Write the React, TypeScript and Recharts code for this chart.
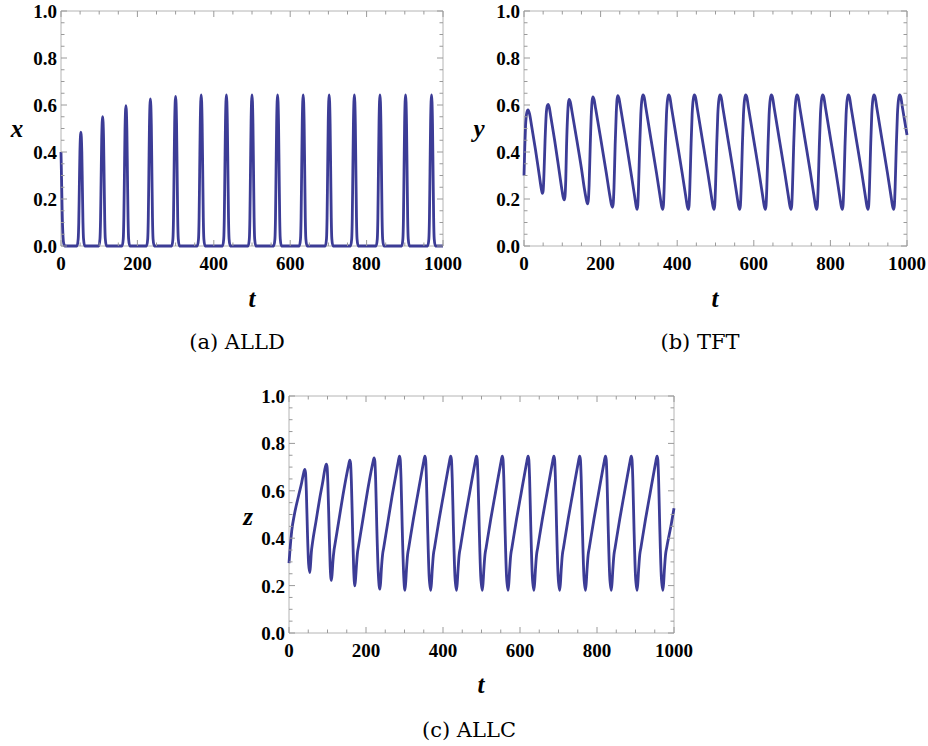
import { LineChart, Line, XAxis, YAxis, ReferenceArea } from 'recharts';

type Pt = [number, number];

// tick values (minor every 50 / 0.05, labels on the majors)
const tTicks = [0, 50, 100, 150, 200, 250, 300, 350, 400, 450, 500, 550, 600, 650, 700, 750, 800, 850, 900, 950, 1000];
const tMajor = [0, 200, 400, 600, 800, 1000];
const yTicks = [0, 0.05, 0.1, 0.15, 0.2, 0.25, 0.3, 0.35, 0.4, 0.45, 0.5, 0.55, 0.6, 0.65, 0.7, 0.75, 0.8, 0.85, 0.9, 0.95, 1];
const yMajor = [0, 0.2, 0.4, 0.6, 0.8, 1];

// (a) ALLD, x(t)
const alldPts: Pt[] = [
  [0, 0.4], [1.5, 0.28], [3, 0.15], [5, 0.05], [7, 0.012], [10, 0],
  [42, 0], [45, 0.03], [46.5, 0.1], [48, 0.25], [49.5, 0.4], [52, 0.484], [54.5, 0.4], [56, 0.25], [57.5, 0.1], [59, 0.03], [62, 0],
  [99, 0], [102, 0.03], [103.5, 0.11], [105, 0.28], [106.5, 0.45], [109, 0.55], [111.5, 0.45], [113, 0.28], [114.5, 0.11], [116, 0.03], [119, 0],
  [160, 0], [163, 0.03], [164.5, 0.12], [166, 0.3], [167.5, 0.49], [170, 0.597], [172.5, 0.49], [174, 0.3], [175.5, 0.12], [177, 0.03], [180, 0],
  [224, 0], [227, 0.03], [228.5, 0.12], [230, 0.31], [231.5, 0.51], [234, 0.626], [236.5, 0.51], [238, 0.31], [239.5, 0.12], [241, 0.03], [244, 0],
  [290, 0], [293, 0.03], [294.5, 0.12], [296, 0.32], [297.5, 0.52], [300, 0.637], [302.5, 0.52], [304, 0.32], [305.5, 0.12], [307, 0.03], [310, 0],
  [357, 0], [360, 0.03], [361.5, 0.12], [363, 0.32], [364.5, 0.52], [367, 0.643], [369.5, 0.52], [371, 0.32], [372.5, 0.12], [374, 0.03], [377, 0],
  [423, 0], [426, 0.03], [427.5, 0.12], [429, 0.32], [430.5, 0.52], [433, 0.643], [435.5, 0.52], [437, 0.32], [438.5, 0.12], [440, 0.03], [443, 0],
  [490, 0], [493, 0.03], [494.5, 0.12], [496, 0.32], [497.5, 0.52], [500, 0.643], [502.5, 0.52], [504, 0.32], [505.5, 0.12], [507, 0.03], [510, 0],
  [557, 0], [560, 0.03], [561.5, 0.12], [563, 0.32], [564.5, 0.52], [567, 0.643], [569.5, 0.52], [571, 0.32], [572.5, 0.12], [574, 0.03], [577, 0],
  [624, 0], [627, 0.03], [628.5, 0.12], [630, 0.32], [631.5, 0.52], [634, 0.643], [636.5, 0.52], [638, 0.32], [639.5, 0.12], [641, 0.03], [644, 0],
  [692, 0], [695, 0.03], [696.5, 0.12], [698, 0.32], [699.5, 0.52], [702, 0.643], [704.5, 0.52], [706, 0.32], [707.5, 0.12], [709, 0.03], [712, 0],
  [758, 0], [761, 0.03], [762.5, 0.12], [764, 0.32], [765.5, 0.52], [768, 0.643], [770.5, 0.52], [772, 0.32], [773.5, 0.12], [775, 0.03], [778, 0],
  [825, 0], [828, 0.03], [829.5, 0.12], [831, 0.32], [832.5, 0.52], [835, 0.643], [837.5, 0.52], [839, 0.32], [840.5, 0.12], [842, 0.03], [845, 0],
  [892, 0], [895, 0.03], [896.5, 0.12], [898, 0.32], [899.5, 0.52], [902, 0.643], [904.5, 0.52], [906, 0.32], [907.5, 0.12], [909, 0.03], [912, 0],
  [960, 0], [963, 0.03], [964.5, 0.12], [966, 0.32], [967.5, 0.52], [970, 0.643], [972.5, 0.52], [974, 0.32], [975.5, 0.12], [977, 0.03], [980, 0],
  [1000, 0],
];

// (b) TFT, y(t)
const tftPts: Pt[] = [
  [0, 0.3], [2, 0.42], [4, 0.51], [7, 0.565], [10.5, 0.579], [14, 0.565], [20, 0.51], [30, 0.41], [40, 0.3], [45, 0.245], [48, 0.224],
  [50, 0.235], [52, 0.3], [55, 0.45], [58, 0.56], [60.5, 0.595], [63, 0.603],
  [66, 0.59], [70, 0.55], [80, 0.45], [90, 0.34], [98, 0.25], [102, 0.21], [105, 0.196],
  [107, 0.21], [109, 0.28], [111, 0.42], [114, 0.56], [116, 0.61], [118, 0.624],
  [121, 0.612], [125, 0.575], [138, 0.45], [150, 0.33], [158, 0.24], [163, 0.195], [166, 0.179],
  [168, 0.195], [170, 0.26], [173, 0.43], [176, 0.57], [178, 0.62], [180, 0.635],
  [183, 0.623], [187, 0.585], [200, 0.46], [215, 0.31], [224, 0.215], [228, 0.178], [231, 0.165],
  [233, 0.18], [235, 0.25], [238, 0.43], [241, 0.57], [243, 0.625], [245, 0.64],
  [248, 0.628], [252, 0.59], [265, 0.46], [280, 0.305], [289, 0.21], [293, 0.168],
  [295, 0.156], [297, 0.172], [299, 0.25], [302, 0.42], [305, 0.56], [308, 0.625], [311, 0.643], [314, 0.632], [318, 0.59], [331, 0.46], [346, 0.31], [355, 0.215], [359, 0.172],
  [362, 0.156], [364, 0.172], [366, 0.25], [369, 0.42], [372, 0.56], [375, 0.625], [378, 0.643], [381, 0.632], [385, 0.59], [398, 0.46], [413, 0.31], [422, 0.215], [426, 0.172],
  [429, 0.156], [431, 0.172], [433, 0.25], [436, 0.42], [439, 0.56], [442, 0.625], [445, 0.643], [448, 0.632], [452, 0.59], [465, 0.46], [480, 0.31], [489, 0.215], [493, 0.172],
  [496, 0.156], [498, 0.172], [500, 0.25], [503, 0.42], [506, 0.56], [509, 0.625], [512, 0.643], [515, 0.632], [519, 0.59], [532, 0.46], [547, 0.31], [556, 0.215], [560, 0.172],
  [563, 0.156], [565, 0.172], [567, 0.25], [570, 0.42], [573, 0.56], [576, 0.625], [579, 0.643], [582, 0.632], [586, 0.59], [599, 0.46], [614, 0.31], [623, 0.215], [627, 0.172],
  [630, 0.156], [632, 0.172], [634, 0.25], [637, 0.42], [640, 0.56], [643, 0.625], [646, 0.643], [649, 0.632], [653, 0.59], [666, 0.46], [681, 0.31], [690, 0.215], [694, 0.172],
  [697, 0.156], [699, 0.172], [701, 0.25], [704, 0.42], [707, 0.56], [710, 0.625], [713, 0.643], [716, 0.632], [720, 0.59], [733, 0.46], [748, 0.31], [757, 0.215], [761, 0.172],
  [764, 0.156], [766, 0.172], [768, 0.25], [771, 0.42], [774, 0.56], [777, 0.625], [780, 0.643], [783, 0.632], [787, 0.59], [800, 0.46], [815, 0.31], [824, 0.215], [828, 0.172],
  [831, 0.156], [833, 0.172], [835, 0.25], [838, 0.42], [841, 0.56], [844, 0.625], [847, 0.643], [850, 0.632], [854, 0.59], [867, 0.46], [882, 0.31], [891, 0.215], [895, 0.172],
  [898, 0.156], [900, 0.172], [902, 0.25], [905, 0.42], [908, 0.56], [911, 0.625], [914, 0.643], [917, 0.632], [921, 0.59], [934, 0.46], [949, 0.31], [958, 0.215], [962, 0.172],
  [965, 0.156], [967, 0.172], [969, 0.25], [972, 0.42], [975, 0.56], [978, 0.625], [981, 0.643], [984, 0.632], [988, 0.59], [1000, 0.472],
];

// (c) ALLC, z(t)
const allcPts: Pt[] = [
  [0, 0.295], [3, 0.36], [7, 0.43], [14, 0.5], [25, 0.58], [33, 0.635], [38, 0.675], [41, 0.69], [43, 0.675], [45, 0.6], [48, 0.42], [51, 0.29],
  [54, 0.255], [56, 0.29], [58, 0.34], [61, 0.38], [70, 0.47], [80, 0.57], [88, 0.64], [93, 0.69], [97, 0.712], [99, 0.7], [101, 0.63], [104, 0.45], [107, 0.28],
  [110, 0.222], [112, 0.25], [114, 0.3], [117, 0.35], [119, 0.37], [130, 0.48], [140, 0.58], [150, 0.67], [155, 0.71], [158, 0.729], [160, 0.715], [162, 0.64], [165, 0.45], [168, 0.27],
  [171, 0.199], [173, 0.23], [175, 0.28], [178, 0.34], [181, 0.37], [192, 0.48], [203, 0.59], [213, 0.68], [218, 0.72], [221, 0.739], [223, 0.725], [225, 0.65], [228, 0.45], [232, 0.25],
  [236, 0.185], [238, 0.215], [240, 0.27], [243, 0.33], [246, 0.36], [257, 0.47], [268, 0.58], [279, 0.68], [284, 0.725], [287, 0.746], [289, 0.73], [291, 0.65], [294, 0.45], [298, 0.24],
  [301, 0.18], [303, 0.21], [305, 0.265], [308, 0.33], [311, 0.36], [323, 0.48], [335, 0.59], [346, 0.69], [350, 0.725], [353, 0.746], [355, 0.73], [357, 0.65], [360, 0.45], [364, 0.24],
  [368, 0.18], [370, 0.21], [372, 0.265], [375, 0.33], [378, 0.36], [390, 0.48], [402, 0.59], [413, 0.69], [417, 0.725], [420, 0.746], [422, 0.73], [424, 0.65], [427, 0.45], [431, 0.24],
  [435, 0.18], [437, 0.21], [439, 0.265], [442, 0.33], [445, 0.36], [457, 0.48], [469, 0.59], [480, 0.69], [484, 0.725], [487, 0.746], [489, 0.73], [491, 0.65], [494, 0.45], [498, 0.24],
  [502, 0.18], [504, 0.21], [506, 0.265], [509, 0.33], [512, 0.36], [524, 0.48], [536, 0.59], [547, 0.69], [551, 0.725], [554, 0.746], [556, 0.73], [558, 0.65], [561, 0.45], [565, 0.24],
  [569, 0.18], [571, 0.21], [573, 0.265], [576, 0.33], [579, 0.36], [591, 0.48], [603, 0.59], [614, 0.69], [618, 0.725], [621, 0.746], [623, 0.73], [625, 0.65], [628, 0.45], [632, 0.24],
  [636, 0.18], [638, 0.21], [640, 0.265], [643, 0.33], [646, 0.36], [658, 0.48], [670, 0.59], [681, 0.69], [685, 0.725], [688, 0.746], [690, 0.73], [692, 0.65], [695, 0.45], [699, 0.24],
  [703, 0.18], [705, 0.21], [707, 0.265], [710, 0.33], [713, 0.36], [725, 0.48], [737, 0.59], [748, 0.69], [752, 0.725], [755, 0.746], [757, 0.73], [759, 0.65], [762, 0.45], [766, 0.24],
  [770, 0.18], [772, 0.21], [774, 0.265], [777, 0.33], [780, 0.36], [792, 0.48], [804, 0.59], [815, 0.69], [819, 0.725], [822, 0.746], [824, 0.73], [826, 0.65], [829, 0.45], [833, 0.24],
  [837, 0.18], [839, 0.21], [841, 0.265], [844, 0.33], [847, 0.36], [859, 0.48], [871, 0.59], [882, 0.69], [886, 0.725], [889, 0.746], [891, 0.73], [893, 0.65], [896, 0.45], [900, 0.24],
  [904, 0.18], [906, 0.21], [908, 0.265], [911, 0.33], [914, 0.36], [926, 0.48], [938, 0.59], [949, 0.69], [953, 0.725], [956, 0.746], [958, 0.73], [960, 0.65], [963, 0.45], [967, 0.24],
  [971, 0.18], [973, 0.21], [975, 0.265], [978, 0.33], [981, 0.36], [993, 0.46], [1000, 0.526],
];

const BLUE = '#3c3c96';
const TICK = '#9a9a9a';
const FRAME = '#b4b4b4';
const SERIF = "'Liberation Serif', 'Times New Roman', serif";

const Y_W = 60;
const M_TOP = 10;
const M_RIGHT = 20;
const X_H = 40;

type Plot = { L: number; T: number; W: number; H: number };

function Panel({ points, plot }: { points: Pt[]; plot: Plot }) {
  const { L, T, W, H } = plot;
  const rows = points.map(([t, v]) => ({ t, v }));

  const xTick = (props: any) => {
    const { x, y, payload } = props;
    const major = tMajor.includes(payload.value);
    const len = major ? 6 : 3.5;
    return (
      <g>
        <line x1={x} y1={y} x2={x} y2={y - len} stroke={TICK} />
        <line x1={x} y1={y - H} x2={x} y2={y - H + len} stroke={TICK} />
        {major && (
          <text x={x} y={y + 24} textAnchor="middle" fontFamily={SERIF} fontWeight="bold" fontSize={19} fill="#000">
            {payload.value}
          </text>
        )}
      </g>
    );
  };

  const yTick = (props: any) => {
    const { x, y, payload } = props;
    const major = yMajor.includes(payload.value);
    const len = major ? 6 : 3.5;
    return (
      <g>
        <line x1={x} y1={y} x2={x + len} y2={y} stroke={TICK} />
        <line x1={x + W} y1={y} x2={x + W - len} y2={y} stroke={TICK} />
        {major && (
          <text x={x - 4} y={y + 7} textAnchor="end" fontFamily={SERIF} fontWeight="bold" fontSize={19} fill="#000">
            {payload.value.toFixed(1)}
          </text>
        )}
      </g>
    );
  };

  return (
    <div style={{ position: 'absolute', left: L - Y_W, top: T - M_TOP }}>
      <LineChart
        width={Y_W + W + M_RIGHT}
        height={M_TOP + H + X_H}
        data={rows}
        margin={{ top: M_TOP, right: M_RIGHT, left: 0, bottom: 0 }}
      >
        <XAxis
          dataKey="t"
          type="number"
          domain={[0, 1000]}
          ticks={tTicks}
          interval={0}
          tick={xTick}
          tickLine={false}
          axisLine={false}
          tickSize={0}
          tickMargin={0}
          height={X_H}
        />
        <YAxis
          type="number"
          domain={[0, 1]}
          ticks={yTicks}
          interval={0}
          tick={yTick}
          tickLine={false}
          axisLine={false}
          tickSize={0}
          tickMargin={0}
          width={Y_W}
        />
        <ReferenceArea x1={0} x2={1000} y1={0} y2={1} fill="none" stroke={FRAME} strokeWidth={1} />
        <Line type="monotone" dataKey="v" stroke={BLUE} strokeWidth={2.8} dot={false} isAnimationActive={false} />
      </LineChart>
    </div>
  );
}

const titleStyle = { fontFamily: SERIF, fontWeight: 'bold' as const, fontStyle: 'italic' as const, fontSize: 25 };
const capStyle = { fontFamily: "'DejaVu Serif', serif", fontSize: 21 };

export default function App() {
  return (
    <div style={{ position: 'absolute', left: 0, top: 0, width: 928, height: 746, background: '#fff' }}>
      <Panel points={alldPts} plot={{ L: 61, T: 11, W: 382, H: 235 }} />
      <Panel points={tftPts} plot={{ L: 524, T: 11, W: 383, H: 235 }} />
      <Panel points={allcPts} plot={{ L: 289, T: 396, W: 385, H: 237 }} />
      <svg width={928} height={746} style={{ position: 'absolute', left: 0, top: 0, pointerEvents: 'none' }}>
        <text x={17} y={137} textAnchor="middle" {...titleStyle}>x</text>
        <text x={252} y={307} textAnchor="middle" {...titleStyle}>t</text>
        <text x={479} y={137} textAnchor="middle" {...titleStyle}>y</text>
        <text x={715} y={307} textAnchor="middle" {...titleStyle}>t</text>
        <text x={248} y={525} textAnchor="middle" {...titleStyle}>z</text>
        <text x={481} y={693} textAnchor="middle" {...titleStyle}>t</text>
        <text x={237} y={349} textAnchor="middle" {...capStyle}>(a) ALLD</text>
        <text x={700} y={349} textAnchor="middle" {...capStyle}>(b) TFT</text>
        <text x={469} y={737} textAnchor="middle" {...capStyle}>(c) ALLC</text>
      </svg>
    </div>
  );
}
